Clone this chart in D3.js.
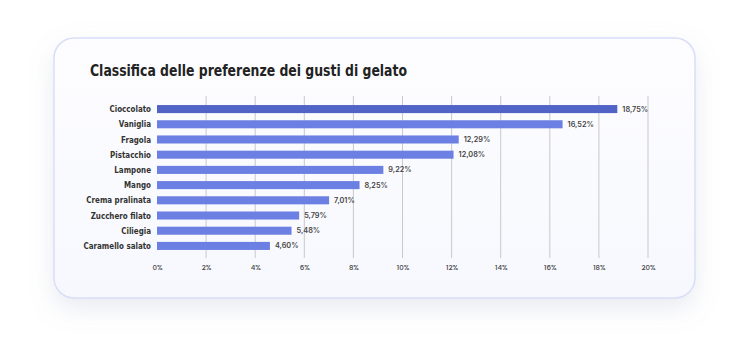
<!DOCTYPE html>
<html><head><meta charset="utf-8">
<script src="https://cdn.jsdelivr.net/npm/d3@7"></script>
<style>
html,body{margin:0;padding:0;background:#ffffff;}
svg{display:block;}
</style></head>
<body>
<svg id="chart" width="750" height="337"></svg>
<script>
const title = "Classifica delle preferenze dei gusti di gelato";
const categories = ["Cioccolato","Vaniglia","Fragola","Pistacchio","Lampone","Mango","Crema pralinata","Zucchero filato","Ciliegia","Caramello salato"];
const values = [18.75,16.52,12.29,12.08,9.22,8.25,7.01,5.79,5.48,4.60];
const tickValues = [0,2,4,6,8,10,12,14,16,18,20];

const svg = d3.select("#chart");
const defs = svg.append("defs");
const f = defs.append("filter").attr("id","sh").attr("x","-20%").attr("y","-20%").attr("width","140%").attr("height","160%");
f.append("feDropShadow").attr("dx",0).attr("dy",10).attr("stdDeviation",12).attr("flood-color","#8890b0").attr("flood-opacity",0.18);
const g1 = defs.append("linearGradient").attr("id","cardg").attr("x1",0).attr("y1",0).attr("x2",0).attr("y2",1);
g1.append("stop").attr("offset","0%").attr("stop-color","#fdfdff");
g1.append("stop").attr("offset","100%").attr("stop-color","#f7f8fe");

svg.append("rect").attr("x",54).attr("y",38).attr("width",641).attr("height",260).attr("rx",20)
  .attr("fill","url(#cardg)").attr("stroke","#d9def8").attr("stroke-width",1.5).attr("filter","url(#sh)");

const condensed = "'DejaVu Sans Condensed','DejaVu Sans',sans-serif";

svg.append("text").attr("x",90).attr("y",76).text(title)
  .attr("font-family",condensed)
  .attr("font-weight","bold").attr("font-size",16).attr("fill","#222")
  .attr("textLength",317).attr("lengthAdjust","spacingAndGlyphs");

const x = d3.scaleLinear().domain([0,20]).range([157,648]);
const y = d3.scaleBand().domain(categories).range([102,253]).paddingInner(0.47).paddingOuter(0.2);

// gridlines
svg.append("g").selectAll("line").data(tickValues.slice(1)).join("line")
  .attr("x1",d=>x(d)).attr("x2",d=>x(d)).attr("y1",96).attr("y2",258)
  .attr("stroke","#c9c9cc").attr("stroke-width",1);

// axis labels
const ax = svg.append("g").attr("transform","translate(0,257)")
  .call(d3.axisBottom(x).tickValues(tickValues).tickSize(0).tickPadding(8).tickFormat(d=>d+"%"));
ax.select(".domain").remove();
ax.selectAll("text").attr("font-family","Poppins,Inter,sans-serif").attr("font-size",7).attr("font-weight",500).attr("fill","#444");

// bars
svg.append("g").selectAll("rect").data(values).join("rect")
  .attr("x",x(0)).attr("y",(d,i)=>y(categories[i])).attr("height",y.bandwidth())
  .attr("width",d=>x(d)-x(0)).attr("fill",(d,i)=>i===0?"#5263c6":"#6c80e4");

// category labels
svg.append("g").selectAll("text").data(categories).join("text")
  .attr("x",151).attr("y",d=>y(d)+y.bandwidth()/2).attr("dy","0.35em").attr("text-anchor","end")
  .text(d=>d).attr("font-family",condensed)
  .attr("font-weight","bold").attr("font-size",9).attr("fill","#333")
  .each(function(){ const l=this.getComputedTextLength(); d3.select(this).attr("textLength",l*0.88).attr("lengthAdjust","spacingAndGlyphs"); });

// value labels
svg.append("g").selectAll("text").data(values).join("text")
  .attr("x",d=>x(d)+5).attr("y",(d,i)=>y(categories[i])+y.bandwidth()/2).attr("dy","0.35em")
  .text(d=>d.toFixed(2).replace(".",",")+"%")
  .attr("font-family","Inter,sans-serif").attr("font-weight",600).attr("font-size",7.3).attr("fill","#444");
</script>
</body></html>
